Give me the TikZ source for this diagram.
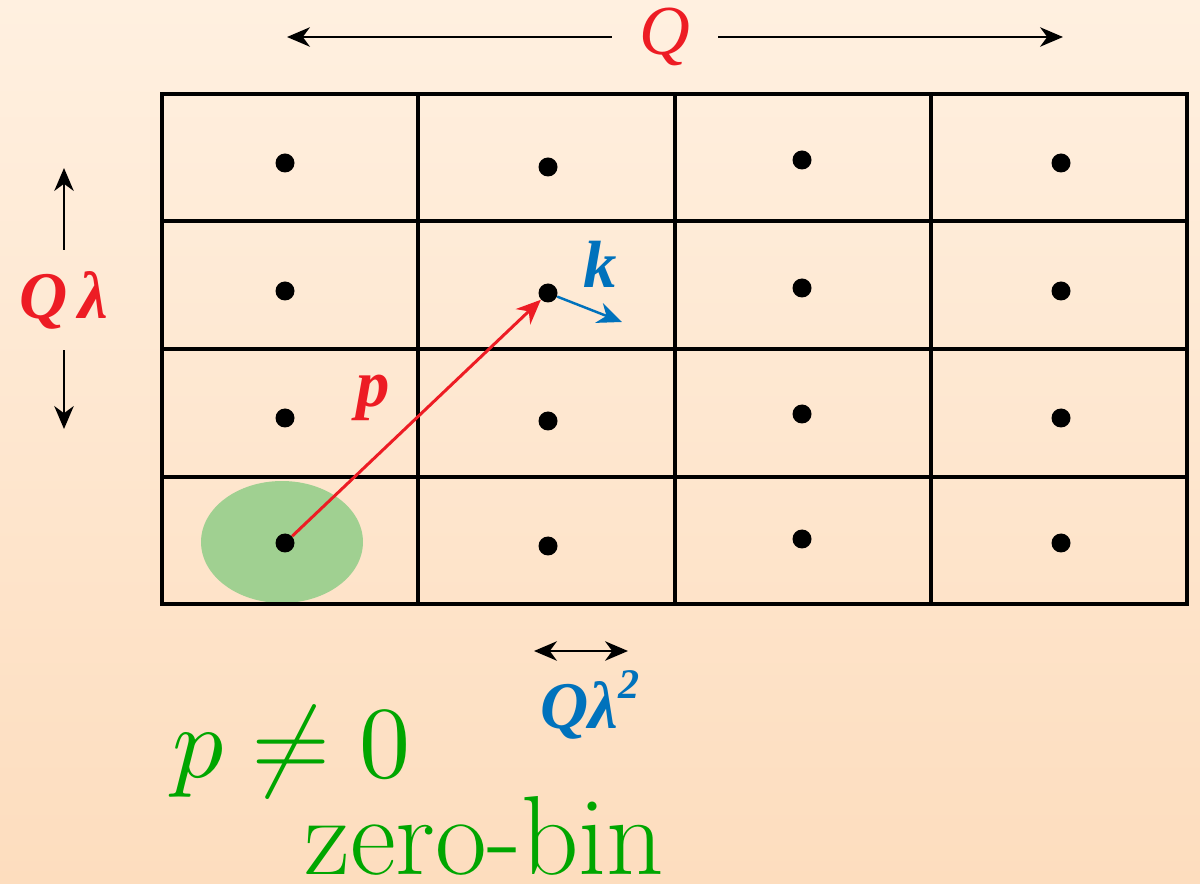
\documentclass[tikz,border=0pt]{standalone}
\usepackage{fontspec}
\newfontfamily\lblfont{Liberation Serif}
\usetikzlibrary{arrows.meta,positioning,shapes.geometric}
\definecolor{lblred}{RGB}{237,28,36}
\definecolor{lblblue}{RGB}{0,114,188}
\definecolor{binfill}{RGB}{160,208,145}
\definecolor{bingreen}{RGB}{0,166,0}
\definecolor{bgtop}{RGB}{255,240,224}
\definecolor{bgbot}{RGB}{253,221,190}
\tikzset{dimtip/.tip={Stealth[length=13pt, width=11pt, inset=4pt]}}

\begin{document}
\begin{tikzpicture}[
    x=0.02cm, y=-0.02cm,
    cell/.style={draw=black, line width=1.9pt},
    site/.style={circle, fill=black, inner sep=0pt, minimum size=0.38cm},
    dim/.style={-dimtip, line width=1.5pt},
    vec/.style={-{Stealth[length=14pt, width=12pt, inset=4.5pt]}, line width=1.7pt},
    lbl/.style={font=\lblfont\bfseries\itshape\fontsize{38}{38}\selectfont, inner sep=0pt},
    big/.style={text=bingreen, inner sep=0pt}
]
    % background
    \useasboundingbox (0,0) rectangle (1200,884);
    \shade[top color=bgtop, bottom color=bgbot] (0,0) rectangle (1200,884);

    % zero bin
    \node[ellipse, fill=binfill, inner sep=0pt, minimum width=3.24cm, minimum height=2.44cm] (bin) at (282,542) {};

    % lattice
    \draw[cell] (162,94) rectangle (1187,604);
    \foreach \x in {418,675,931} \draw[cell] (\x,94) -- (\x,604);
    \foreach \y in {221,349,477} \draw[cell] (162,\y) -- (1187,\y);

    \foreach \x/\y [count=\i] in {285/163, 548/167, 802/160, 1061/163,
                                  285/291, 548/293, 802/288, 1061/291,
                                  285/418, 548/421, 802/414, 1061/418,
                                  285/543, 548/546, 802/539, 1061/543}
        \node[site] (d\i) at (\x,\y) {};

    % momenta
    \draw[vec, lblred] (d13) -- (d6);
    \node[lbl, text=lblred] (p) at (373,398) {p};
    \coordinate (kend) at (622,322);
    \draw[vec, lblblue, line width=1.4pt] (d6) -- (kend);
    \node[lbl, text=lblblue] (k) at (600,264) {k};

    % sizes
    \node[lbl, font=\lblfont\itshape\fontsize{40}{40}\selectfont, text=lblred, inner xsep=0.55cm] (Q) at (665,37) {Q};
    \coordinate (qL) at (287,37);
    \coordinate (qR) at (1063,37);
    \draw[dim] (Q) -- (qL);
    \draw[dim] (Q) -- (qR);

    \node[lbl, text=lblred, minimum height=2cm] (Ql) at (64,300) {Q\,λ};
    \coordinate (qlU) at (64,168);
    \coordinate (qlD) at (64,429);
    \draw[dim] (Ql) -- (qlU);
    \draw[dim] (Ql) -- (qlD);

    \coordinate (wL) at (534,651);
    \coordinate (wR) at (628,651);
    \draw[dim, dimtip-dimtip] (wL) -- (wR);
    \node[lbl, text=lblblue] (Qll) at (590,705) {Qλ\raisebox{0.45em}{\fontsize{24}{24}\selectfont 2}};

    % zero-bin condition
    \node[big, anchor=base west] (cond) at (172,777) {\scalebox{5.8}{$p\neq0$}};
    \node[big, anchor=base west, font=\fontsize{64}{64}\selectfont] (zb) at (304,874) {zero-bin};
\end{tikzpicture}
\end{document}
